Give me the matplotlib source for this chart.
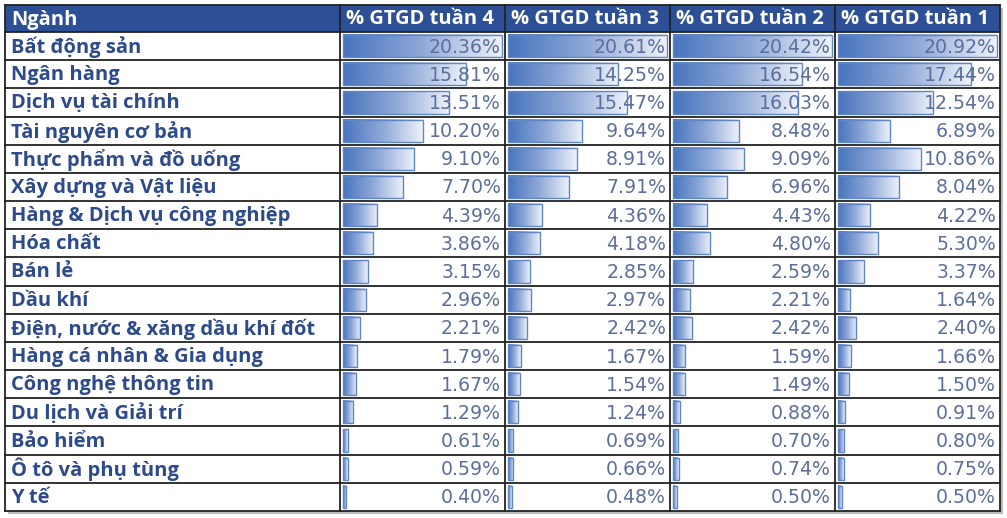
import numpy as np
import matplotlib as mpl
mpl.use('Agg')
import matplotlib.pyplot as plt
from matplotlib.patches import Rectangle
from matplotlib.colors import LinearSegmentedColormap

sectors = ['Bất động sản', 'Ngân hàng', 'Dịch vụ tài chính', 'Tài nguyên cơ bản',
           'Thực phẩm và đồ uống', 'Xây dựng và Vật liệu', 'Hàng & Dịch vụ công nghiệp',
           'Hóa chất', 'Bán lẻ', 'Dầu khí', 'Điện, nước & xăng dầu khí đốt',
           'Hàng cá nhân & Gia dụng', 'Công nghệ thông tin', 'Du lịch và Giải trí',
           'Bảo hiểm', 'Ô tô và phụ tùng', 'Y tế']
headers = ['Ngành', '% GTGD tuần 4', '% GTGD tuần 3', '% GTGD tuần 2', '% GTGD tuần 1']
week4 = [20.36, 15.81, 13.51, 10.20, 9.10, 7.70, 4.39, 3.86, 3.15, 2.96, 2.21, 1.79, 1.67, 1.29, 0.61, 0.59, 0.40]
week3 = [20.61, 14.25, 15.47, 9.64, 8.91, 7.91, 4.36, 4.18, 2.85, 2.97, 2.42, 1.67, 1.54, 1.24, 0.69, 0.66, 0.48]
week2 = [20.42, 16.54, 16.03, 8.48, 9.09, 6.96, 4.43, 4.80, 2.59, 2.21, 2.42, 1.59, 1.49, 0.88, 0.70, 0.74, 0.50]
week1 = [20.92, 17.44, 12.54, 6.89, 10.86, 8.04, 4.22, 5.30, 3.37, 1.64, 2.40, 1.66, 1.50, 0.91, 0.80, 0.75, 0.50]
weeks = [week4, week3, week2, week1]

W, H = 1007, 518
fig = plt.figure(figsize=(W / 100, H / 100), dpi=100)
ax = fig.add_axes([0, 0, 1, 1])
ax.set_xlim(0, W)
ax.set_ylim(H, 0)
ax.axis('off')

col_edges = [5, 340, 505, 670, 835, 1000]
top, header_h, bottom = 5, 27, 511
row_h = (bottom - top - header_h) / len(sectors)

header_color = '#2C4F96'
label_color = '#2D4A8A'
value_color = '#5C6E9C'
bar_cmap = LinearSegmentedColormap.from_list('bar', ['#4874BD', '#8FA9D8', '#EEF2FA'])
grad = np.linspace(0, 1, 256).reshape(1, -1)

# shadow
ax.add_patch(Rectangle((col_edges[0] + 3, top + 3), col_edges[-1] - col_edges[0], bottom - top,
                       facecolor='#BBBBBB', edgecolor='none', zorder=0))
ax.add_patch(Rectangle((col_edges[0], top), col_edges[-1] - col_edges[0], bottom - top,
                       facecolor='white', edgecolor='none', zorder=1))

# header
ax.add_patch(Rectangle((col_edges[0], top), col_edges[-1] - col_edges[0], header_h,
                       facecolor=header_color, edgecolor='none', zorder=2))
for j, h in enumerate(headers):
    ax.text(col_edges[j] + 6, top + header_h / 2 + 1, h, color='white', fontsize=14.5,
            fontweight='bold', family='Open Sans', ha='left', va='center', zorder=5)

for i, name in enumerate(sectors):
    y0 = top + header_h + i * row_h
    yc = y0 + row_h / 2
    ax.text(col_edges[0] + 6, yc + 1, name, color=label_color, fontsize=14.5,
            fontweight='bold', family='Open Sans', ha='left', va='center', zorder=5)
    for j, vals in enumerate(weeks):
        x0, x1 = col_edges[j + 1], col_edges[j + 2]
        full = x1 - x0 - 6
        length = max(vals[i] / max(vals) * full, 2)
        bx = x0 + 3
        by0, by1 = y0 + 3, y0 + row_h - 3
        ax.imshow(grad, cmap=bar_cmap, extent=(bx, bx + length, by1, by0),
                  aspect='auto', interpolation='bilinear', zorder=3)
        ax.add_patch(Rectangle((bx, by0), length, by1 - by0, facecolor='none',
                               edgecolor='#5F86C6', lw=1.0, zorder=4))
        ax.text(x1 - 4, yc + 1, f'{vals[i]:.2f}%', color=value_color, fontsize=13.6,
                family='DejaVu Sans', ha='right', va='center', zorder=5)

# grid lines
for k in range(len(sectors) + 1):
    y = top + header_h + k * row_h
    ax.plot([col_edges[0], col_edges[-1]], [y, y], color='#222222', lw=1.3, zorder=6)
ax.plot([col_edges[0], col_edges[-1]], [top, top], color='#222222', lw=1.3, zorder=6)
for x in col_edges:
    ax.plot([x, x], [top, bottom], color='#222222', lw=1.3, zorder=6)

ax.set_xlim(0, W)
ax.set_ylim(H, 0)
fig.savefig('out.png', dpi=100)
